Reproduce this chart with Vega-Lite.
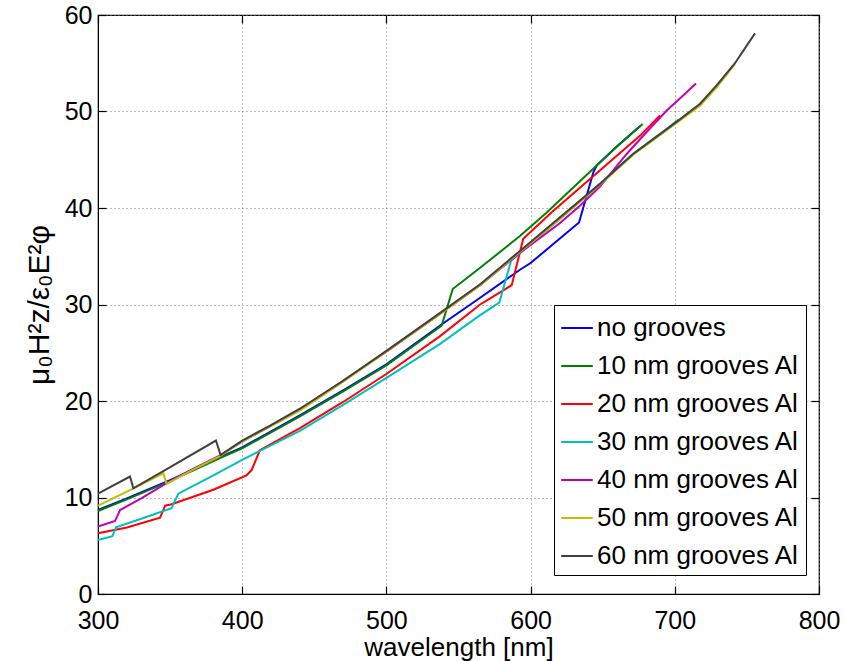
{
  "$schema": "https://vega.github.io/schema/vega-lite/v6.json",
  "width": 721,
  "height": 579,
  "autosize": {"type": "none"},
  "padding": {"left": 98, "top": 15, "right": 26, "bottom": 67},
  "background": "white",
  "config": {
    "font": "Liberation Sans",
    "view": {"stroke": "black", "strokeWidth": 1.2},
    "axis": {
      "domainColor": "black",
      "tickColor": "black",
      "labelColor": "black",
      "titleColor": "black",
      "labelFont": "Liberation Sans",
      "titleFont": "Liberation Sans",
      "labelFontSize": 25,
      "titleFontSize": 26,
      "titleFontWeight": "normal",
      "gridColor": "#777777",
      "gridDash": [1, 3],
      "gridWidth": 1,
      "gridOpacity": 1,
      "tickSize": -8,
      "tickWidth": 1.2,
      "labelFlush": false,
      "labelOverlap": false
    }
  },
  "resolve": {"axis": {"x": "independent", "y": "independent"}},
  "datasets": {
    "d": [
      {"s": "no grooves", "x": 300, "y": 8.7},
      {"s": "no grooves", "x": 320, "y": 9.9},
      {"s": "no grooves", "x": 350, "y": 11.8},
      {"s": "no grooves", "x": 385, "y": 14.2},
      {"s": "no grooves", "x": 400, "y": 15.2},
      {"s": "no grooves", "x": 440, "y": 18.5},
      {"s": "no grooves", "x": 470, "y": 21.1},
      {"s": "no grooves", "x": 500, "y": 23.8},
      {"s": "no grooves", "x": 538, "y": 27.9},
      {"s": "no grooves", "x": 565, "y": 30.7},
      {"s": "no grooves", "x": 592.6, "y": 33.6},
      {"s": "no grooves", "x": 600, "y": 34.3},
      {"s": "no grooves", "x": 633.6, "y": 38.5},
      {"s": "no grooves", "x": 643.5, "y": 43.7},
      {"s": "no grooves", "x": 645.8, "y": 44.4},
      {"s": "no grooves", "x": 660, "y": 46.4},
      {"s": "no grooves", "x": 676, "y": 48.5},

      {"s": "10 nm grooves Al", "x": 300, "y": 8.6},
      {"s": "10 nm grooves Al", "x": 320, "y": 9.8},
      {"s": "10 nm grooves Al", "x": 350, "y": 11.7},
      {"s": "10 nm grooves Al", "x": 385, "y": 14.1},
      {"s": "10 nm grooves Al", "x": 400, "y": 15.1},
      {"s": "10 nm grooves Al", "x": 440, "y": 18.4},
      {"s": "10 nm grooves Al", "x": 470, "y": 21.0},
      {"s": "10 nm grooves Al", "x": 500, "y": 23.7},
      {"s": "10 nm grooves Al", "x": 538.3, "y": 27.8},
      {"s": "10 nm grooves Al", "x": 546, "y": 31.6},
      {"s": "10 nm grooves Al", "x": 565, "y": 33.8},
      {"s": "10 nm grooves Al", "x": 592.6, "y": 37.1},
      {"s": "10 nm grooves Al", "x": 611, "y": 39.5},
      {"s": "10 nm grooves Al", "x": 645.8, "y": 44.4},
      {"s": "10 nm grooves Al", "x": 660, "y": 46.4},
      {"s": "10 nm grooves Al", "x": 677.7, "y": 48.7},

      {"s": "20 nm grooves Al", "x": 300, "y": 6.3},
      {"s": "20 nm grooves Al", "x": 320, "y": 6.9},
      {"s": "20 nm grooves Al", "x": 343, "y": 7.9},
      {"s": "20 nm grooves Al", "x": 346.6, "y": 9.15},
      {"s": "20 nm grooves Al", "x": 351, "y": 9.3},
      {"s": "20 nm grooves Al", "x": 380, "y": 10.8},
      {"s": "20 nm grooves Al", "x": 403, "y": 12.3},
      {"s": "20 nm grooves Al", "x": 406.6, "y": 12.86},
      {"s": "20 nm grooves Al", "x": 412.3, "y": 14.9},
      {"s": "20 nm grooves Al", "x": 440, "y": 17.2},
      {"s": "20 nm grooves Al", "x": 470, "y": 19.9},
      {"s": "20 nm grooves Al", "x": 500, "y": 22.8},
      {"s": "20 nm grooves Al", "x": 537, "y": 26.7},
      {"s": "20 nm grooves Al", "x": 565, "y": 30.0},
      {"s": "20 nm grooves Al", "x": 586.9, "y": 32.0},
      {"s": "20 nm grooves Al", "x": 594.9, "y": 36.8},
      {"s": "20 nm grooves Al", "x": 615, "y": 39.6},
      {"s": "20 nm grooves Al", "x": 635, "y": 42.2},
      {"s": "20 nm grooves Al", "x": 655, "y": 44.8},
      {"s": "20 nm grooves Al", "x": 676, "y": 47.5},
      {"s": "20 nm grooves Al", "x": 689.7, "y": 49.6},

      {"s": "30 nm grooves Al", "x": 300, "y": 5.6},
      {"s": "30 nm grooves Al", "x": 310, "y": 6.0},
      {"s": "30 nm grooves Al", "x": 312.5, "y": 6.9},
      {"s": "30 nm grooves Al", "x": 330, "y": 7.8},
      {"s": "30 nm grooves Al", "x": 351, "y": 8.9},
      {"s": "30 nm grooves Al", "x": 355.7, "y": 10.4},
      {"s": "30 nm grooves Al", "x": 380, "y": 12.3},
      {"s": "30 nm grooves Al", "x": 400, "y": 13.9},
      {"s": "30 nm grooves Al", "x": 440, "y": 16.9},
      {"s": "30 nm grooves Al", "x": 470, "y": 19.6},
      {"s": "30 nm grooves Al", "x": 500, "y": 22.4},
      {"s": "30 nm grooves Al", "x": 537, "y": 25.9},
      {"s": "30 nm grooves Al", "x": 565, "y": 28.9},
      {"s": "30 nm grooves Al", "x": 578.3, "y": 30.2},
      {"s": "30 nm grooves Al", "x": 586.4, "y": 34.5},
      {"s": "30 nm grooves Al", "x": 600, "y": 36.3},
      {"s": "30 nm grooves Al", "x": 620, "y": 38.8},
      {"s": "30 nm grooves Al", "x": 648, "y": 42.5},
      {"s": "30 nm grooves Al", "x": 671, "y": 45.6},
      {"s": "30 nm grooves Al", "x": 690, "y": 47.7},
      {"s": "30 nm grooves Al", "x": 702.4, "y": 49.15},

      {"s": "40 nm grooves Al", "x": 300, "y": 7.0},
      {"s": "40 nm grooves Al", "x": 311.8, "y": 7.56},
      {"s": "40 nm grooves Al", "x": 315.3, "y": 8.7},
      {"s": "40 nm grooves Al", "x": 330, "y": 9.9},
      {"s": "40 nm grooves Al", "x": 347.6, "y": 11.5},
      {"s": "40 nm grooves Al", "x": 365, "y": 12.9},
      {"s": "40 nm grooves Al", "x": 385, "y": 14.4},
      {"s": "40 nm grooves Al", "x": 400, "y": 15.8},
      {"s": "40 nm grooves Al", "x": 440, "y": 19.1},
      {"s": "40 nm grooves Al", "x": 470, "y": 22.1},
      {"s": "40 nm grooves Al", "x": 500, "y": 25.1},
      {"s": "40 nm grooves Al", "x": 537, "y": 29.0},
      {"s": "40 nm grooves Al", "x": 565, "y": 32.0},
      {"s": "40 nm grooves Al", "x": 593, "y": 35.4},
      {"s": "40 nm grooves Al", "x": 620, "y": 38.4},
      {"s": "40 nm grooves Al", "x": 634, "y": 40.2},
      {"s": "40 nm grooves Al", "x": 648, "y": 42.2},
      {"s": "40 nm grooves Al", "x": 666.6, "y": 45.6},
      {"s": "40 nm grooves Al", "x": 680, "y": 47.8},
      {"s": "40 nm grooves Al", "x": 694.4, "y": 50.1},
      {"s": "40 nm grooves Al", "x": 702.4, "y": 51.2},
      {"s": "40 nm grooves Al", "x": 714.7, "y": 52.9},

      {"s": "50 nm grooves Al", "x": 300, "y": 9.15},
      {"s": "50 nm grooves Al", "x": 324, "y": 10.9},
      {"s": "50 nm grooves Al", "x": 345.3, "y": 12.5},
      {"s": "50 nm grooves Al", "x": 347.6, "y": 11.4},
      {"s": "50 nm grooves Al", "x": 365, "y": 12.8},
      {"s": "50 nm grooves Al", "x": 385, "y": 14.3},
      {"s": "50 nm grooves Al", "x": 400, "y": 15.8},
      {"s": "50 nm grooves Al", "x": 440, "y": 19.0},
      {"s": "50 nm grooves Al", "x": 470, "y": 22.0},
      {"s": "50 nm grooves Al", "x": 500, "y": 25.1},
      {"s": "50 nm grooves Al", "x": 537, "y": 29.0},
      {"s": "50 nm grooves Al", "x": 565, "y": 32.0},
      {"s": "50 nm grooves Al", "x": 593, "y": 35.5},
      {"s": "50 nm grooves Al", "x": 620, "y": 38.8},
      {"s": "50 nm grooves Al", "x": 648, "y": 42.4},
      {"s": "50 nm grooves Al", "x": 671, "y": 45.5},
      {"s": "50 nm grooves Al", "x": 701, "y": 48.8},
      {"s": "50 nm grooves Al", "x": 717.5, "y": 50.6},
      {"s": "50 nm grooves Al", "x": 729, "y": 52.5},
      {"s": "50 nm grooves Al", "x": 741.7, "y": 54.9},

      {"s": "60 nm grooves Al", "x": 300, "y": 10.4},
      {"s": "60 nm grooves Al", "x": 322.2, "y": 12.17},
      {"s": "60 nm grooves Al", "x": 324.5, "y": 10.95},
      {"s": "60 nm grooves Al", "x": 345, "y": 12.7},
      {"s": "60 nm grooves Al", "x": 381.8, "y": 15.9},
      {"s": "60 nm grooves Al", "x": 385, "y": 14.4},
      {"s": "60 nm grooves Al", "x": 400, "y": 15.9},
      {"s": "60 nm grooves Al", "x": 420, "y": 17.5},
      {"s": "60 nm grooves Al", "x": 440, "y": 19.2},
      {"s": "60 nm grooves Al", "x": 470, "y": 22.1},
      {"s": "60 nm grooves Al", "x": 500, "y": 25.2},
      {"s": "60 nm grooves Al", "x": 537, "y": 29.1},
      {"s": "60 nm grooves Al", "x": 565, "y": 32.1},
      {"s": "60 nm grooves Al", "x": 593, "y": 35.6},
      {"s": "60 nm grooves Al", "x": 620, "y": 39.0},
      {"s": "60 nm grooves Al", "x": 648, "y": 42.5},
      {"s": "60 nm grooves Al", "x": 671, "y": 45.6},
      {"s": "60 nm grooves Al", "x": 701, "y": 48.9},
      {"s": "60 nm grooves Al", "x": 717.5, "y": 50.8},
      {"s": "60 nm grooves Al", "x": 729, "y": 52.7},
      {"s": "60 nm grooves Al", "x": 741.7, "y": 55.0},
      {"s": "60 nm grooves Al", "x": 755.6, "y": 58.1}
    ]
  },
  "layer": [
    {
      "data": {"name": "d"},
      "mark": {"type": "line", "strokeWidth": 2},
      "encoding": {
        "x": {
          "field": "x", "type": "quantitative",
          "scale": {"domain": [300, 800], "nice": false, "zero": false},
          "axis": {"orient": "bottom", "values": [300, 400, 500, 600, 700, 800], "title": "wavelength [nm]", "titlePadding": 1, "labelPadding": 22, "grid": true}
        },
        "y": {
          "field": "y", "type": "quantitative",
          "scale": {"domain": [0, 60], "nice": false},
          "axis": {"orient": "left", "values": [0, 10, 20, 30, 40, 50, 60], "title": "μ₀H²z/ε₀E²φ", "titleFontSize": 30, "titlePadding": 10, "labelPadding": 14, "grid": true}
        },
        "color": {
          "field": "s", "type": "nominal",
          "scale": {
            "domain": ["no grooves", "10 nm grooves Al", "20 nm grooves Al", "30 nm grooves Al", "40 nm grooves Al", "50 nm grooves Al", "60 nm grooves Al"],
            "range": ["#0000FF", "#008000", "#FF0000", "#00BFBF", "#BF00BF", "#BFBF00", "#404040"]
          },
          "legend": {
            "title": null,
            "orient": "none",
            "legendX": 456,
            "legendY": 290,
            "strokeColor": "black",
            "fillColor": "white",
            "padding": 6,
            "symbolType": "stroke",
            "symbolSize": 1000,
            "symbolStrokeWidth": 2,
            "labelFontSize": 26,
            "labelFont": "Liberation Sans",
            "labelColor": "black",
            "labelOffset": 3,
            "rowPadding": 8,
            "labelLimit": 400
          }
        }
      }
    },
    {
      "data": {"name": "d"},
      "mark": {"type": "point", "opacity": 0},
      "encoding": {
        "x": {
          "field": "x", "type": "quantitative",
          "axis": {"orient": "top", "values": [300, 400, 500, 600, 700, 800], "labels": false, "title": null, "grid": false, "domain": false}
        },
        "y": {
          "field": "y", "type": "quantitative",
          "axis": {"orient": "right", "values": [0, 10, 20, 30, 40, 50, 60], "labels": false, "title": null, "grid": false, "domain": false}
        }
      }
    }
  ]
}
